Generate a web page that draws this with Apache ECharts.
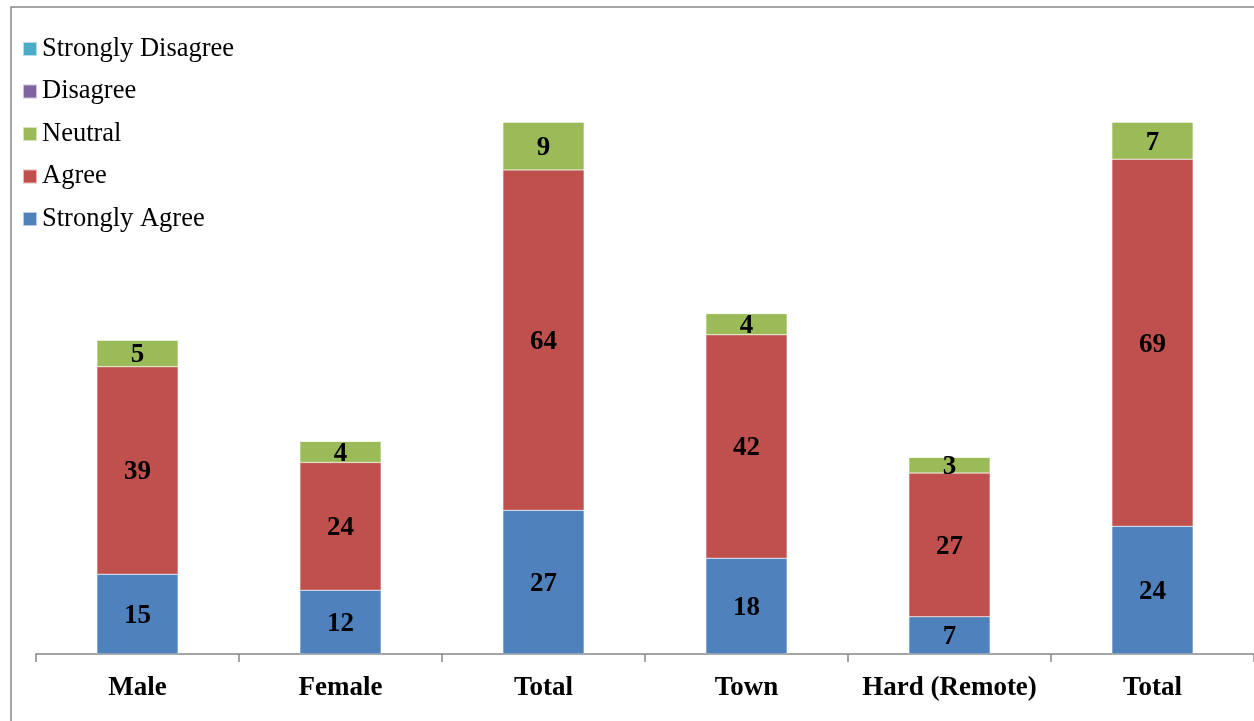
<!DOCTYPE html>
<html>
<head>
<meta charset="utf-8">
<script src="https://cdn.jsdelivr.net/npm/echarts@6/dist/echarts.min.js"></script>
<style>html,body{margin:0;padding:0;background:#fff}#chart{width:1254px;height:721px}</style>
</head>
<body>
<div id="chart"></div>
<script>
// categories and series values
let categories = ['Male', 'Female', 'Total', 'Town', 'Hard (Remote)', 'Total']
let stronglyAgree = [15, 12, 27, 18, 7, 24]
let agree = [39, 24, 64, 42, 27, 69]
let neutral = [5, 4, 9, 4, 3, 7]
let disagree = [0, 0, 0, 0, 0, 0]
let stronglyDisagree = [0, 0, 0, 0, 0, 0]
let seriesNames = ['Strongly Agree', 'Agree', 'Neutral', 'Disagree', 'Strongly Disagree']
let seriesColors = ['#4F81BD', '#C0504D', '#9BBB59', '#8064A2', '#4BACC6']

let font = '"Liberation Serif", "Times New Roman", serif'

let dom = document.getElementById('chart')
let myChart = echarts.init(dom)

let values = [stronglyAgree, agree, neutral, disagree, stronglyDisagree]
let series = values.map((v, i) => ({
  name: seriesNames[i],
  type: 'bar',
  stack: 'all',
  barWidth: '40%',
  data: v,
  itemStyle: {color: seriesColors[i], borderColor: 'rgba(255,255,255,0.6)', borderWidth: 0.5},
  label: {
    show: true, position: 'inside', offset: [0, 2], color: '#000', fontFamily: font, fontWeight: 'bold', fontSize: 27,
    formatter: p => (p.value ? p.value : '')
  }
}))

let option = {
  animation: false,
  color: seriesColors,
  graphic: [{type: 'rect', shape: {x: 11, y: 7, width: 1300, height: 800}, style: {fill: 'none', stroke: '#898989', lineWidth: 1.5}, silent: true}],
  legend: {
    orient: 'vertical', left: 22, top: 35, padding: 0, itemWidth: 14, itemHeight: 14, itemGap: 14.5,
    icon: 'rect',
    data: seriesNames.slice().reverse(),
    textStyle: {fontFamily: font, fontSize: 26.5, color: '#000', lineHeight: 28}
  },
  grid: {left: 36, top: 122, width: 1221, height: 532, containLabel: false},
  xAxis: {
    type: 'category', data: categories,
    axisLine: {lineStyle: {color: '#868686', width: 1.5}},
    axisTick: {show: true, length: 8, lineStyle: {color: '#868686', width: 1.5}},
    axisLabel: {interval: 0, margin: 21, color: '#000', fontFamily: font, fontWeight: 'bold', fontSize: 27}
  },
  yAxis: {type: 'value', min: 0, max: 100, show: false, splitLine: {show: false}},
  series: series
}
myChart.setOption(option)
</script>
</body>
</html>
